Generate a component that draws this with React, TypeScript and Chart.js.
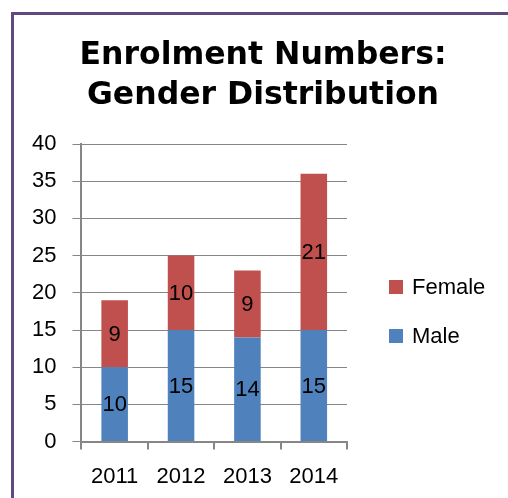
import React, { useEffect, useRef } from "react";
import { Chart, registerables } from "chart.js";

Chart.register(...registerables);

const categories = ["2011", "2012", "2013", "2014"];
const maleValues = [10, 15, 14, 15];
const femaleValues = [9, 10, 9, 21];
const seriesNames = ["Male", "Female"];
const titleLines = ["Enrolment Numbers:", "Gender Distribution"];
const yMin = 0;
const yMax = 40;
const yStep = 5;

const BLUE = "#4F81BD";
const RED = "#C0504D";
const GRID = "#868686";
const FONT = "'Liberation Sans', Arial, sans-serif";

export default function App() {
  const ref = useRef<HTMLCanvasElement>(null);

  useEffect(() => {
    if (!ref.current) return;

    const segLabels = {
      id: "segLabels",
      afterDatasetsDraw(chart: any) {
        const ctx = chart.ctx;
        ctx.save();
        ctx.font = `22px ${FONT}`;
        ctx.fillStyle = "#000";
        ctx.textAlign = "center";
        ctx.textBaseline = "middle";
        chart.data.datasets.forEach((ds: any, di: number) => {
          const meta = chart.getDatasetMeta(di);
          meta.data.forEach((el: any, i: number) => {
            const p = el.getProps(["x", "y", "base"], true);
            ctx.fillText(String(ds.data[i]), p.x, (p.y + p.base) / 2 + 1);
          });
        });
        ctx.restore();
      },
    };

    const sideLegend = {
      id: "sideLegend",
      afterDraw(chart: any) {
        const ctx = chart.ctx;
        const area = chart.chartArea;
        ctx.save();
        ctx.font = `22px ${FONT}`;
        ctx.textAlign = "left";
        ctx.textBaseline = "middle";
        const items = chart.data.datasets
          .map((ds: any) => ({ label: ds.label, color: ds.backgroundColor }))
          .reverse();
        const boxX = area.right + 42;
        let cy = area.top + 143;
        items.forEach((it: any) => {
          ctx.fillStyle = it.color;
          ctx.fillRect(boxX, cy - 7, 14, 14);
          ctx.fillStyle = "#000";
          ctx.fillText(it.label, boxX + 23, cy + 1);
          cy += 49;
        });
        ctx.restore();
      },
    };

    const chart = new Chart(ref.current, {
      type: "bar",
      data: {
        labels: categories,
        datasets: [
          {
            label: seriesNames[0],
            data: maleValues,
            backgroundColor: BLUE,
            borderWidth: 0,
            barPercentage: 0.4,
            categoryPercentage: 1,
          },
          {
            label: seriesNames[1],
            data: femaleValues,
            backgroundColor: RED,
            borderWidth: 0,
            barPercentage: 0.4,
            categoryPercentage: 1,
          },
        ],
      },
      options: {
        responsive: false,
        animation: false,
        devicePixelRatio: 1,
        layout: { padding: { left: 2, right: 0, top: 0, bottom: 8 } },
        plugins: {
          legend: { display: false },
          tooltip: { enabled: false },
          title: {
            display: true,
            text: titleLines,
            color: "#000",
            font: { family: "'DejaVu Sans', Verdana, sans-serif", size: 31.5, weight: "bold", lineHeight: 1.27 },
            padding: { top: 21, bottom: 28 },
          },
        },
        scales: {
          x: {
            stacked: true,
            offset: true,
            grid: {
              display: true,
              drawOnChartArea: false,
              drawTicks: true,
              tickLength: 8,
              color: GRID,
              offset: true,
              lineWidth: 2,
            },
            border: { display: true, color: GRID, width: 2 },
            ticks: { color: "#000", font: { family: FONT, size: 22 }, padding: 14, maxRotation: 0 },
          },
          y: {
            stacked: true,
            min: yMin,
            max: yMax,
            grid: { color: GRID, lineWidth: 1, tickLength: 9, drawTicks: true },
            border: { display: true, color: GRID, width: 2 },
            ticks: { stepSize: yStep, color: "#000", font: { family: FONT, size: 22 }, padding: 16 },
          },
          spacer: {
            type: "linear",
            position: "right",
            display: true,
            grid: { display: false, drawTicks: false },
            border: { display: false },
            ticks: { display: false },
            afterFit(scale: any) {
              scale.width = 163;
            },
          },
        },
      },
      plugins: [segLabels, sideLegend],
    });

    return () => chart.destroy();
  }, []);

  return (
    <div
      style={{
        position: "fixed",
        left: 0,
        top: 0,
        width: 508,
        height: 498,
        overflow: "hidden",
        background: "#fff",
      }}
    >
      <div
        style={{
          position: "absolute",
          left: 11,
          top: 12,
          width: 520,
          height: 520,
          borderLeft: "3px solid #604A7B",
          borderTop: "3px solid #604A7B",
          background: "#fff",
        }}
      >
        <canvas ref={ref} width={496} height={497} style={{ display: "block" }} />
      </div>
    </div>
  );
}
